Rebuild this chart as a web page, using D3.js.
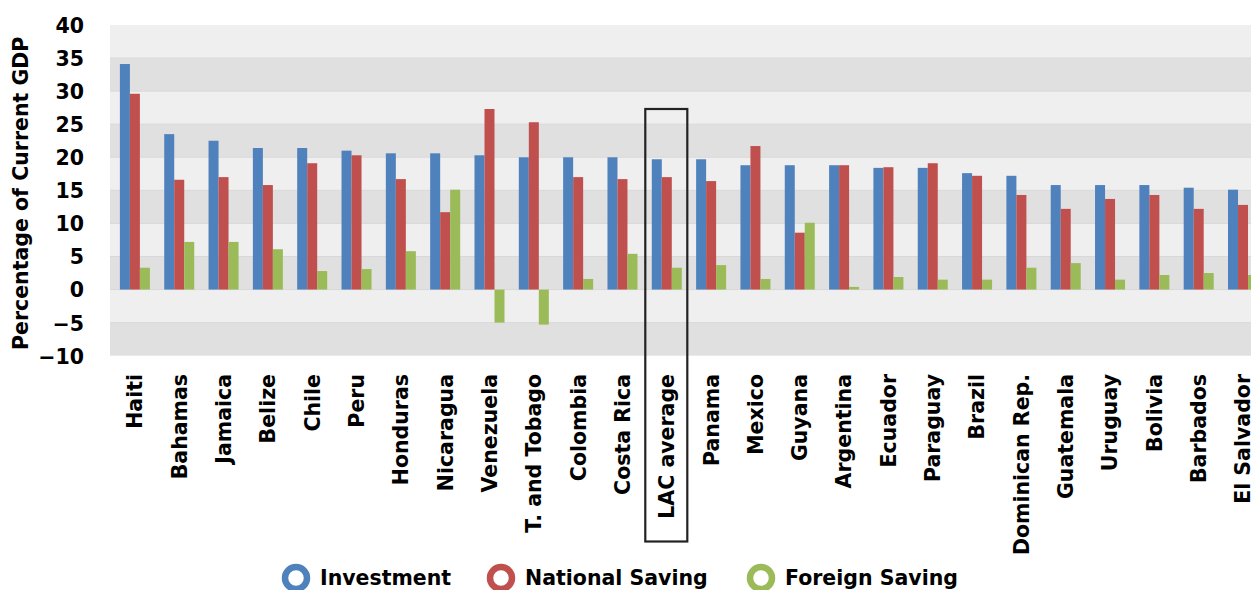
<!DOCTYPE html>
<html><head><meta charset="utf-8">
<script src="https://cdn.jsdelivr.net/npm/d3@7"></script>
<style>body{margin:0;background:#fff;overflow:hidden}svg{display:block}</style>
</head><body>
<script>
const categories = ["Haiti","Bahamas","Jamaica","Belize","Chile","Peru","Honduras","Nicaragua","Venezuela","T. and Tobago","Colombia","Costa Rica","LAC average","Panama","Mexico","Guyana","Argentina","Ecuador","Paraguay","Brazil","Dominican Rep.","Guatemala","Uruguay","Bolivia","Barbados","El Salvador"];
const investment = [34.1,23.5,22.5,21.4,21.4,21.0,20.6,20.6,20.3,20.0,20.0,20.0,19.7,19.7,18.8,18.8,18.8,18.4,18.4,17.6,17.2,15.8,15.8,15.8,15.4,15.1];
const nationalSaving = [29.6,16.6,17.0,15.8,19.1,20.3,16.7,11.7,27.3,25.3,17.0,16.7,17.0,16.4,21.7,8.6,18.8,18.5,19.1,17.2,14.3,12.2,13.7,14.3,12.2,12.8];
const foreignSaving = [3.3,7.2,7.2,6.1,2.8,3.1,5.8,15.1,-5.0,-5.3,1.6,5.4,3.3,3.7,1.6,10.1,0.4,1.9,1.5,1.5,3.3,4.0,1.5,2.2,2.5,2.2];
const seriesNames = ["Investment","National Saving","Foreign Saving"];
const seriesColors = ["#4f81bd","#c0504d","#9bbb59"];
const yTicks = [40,35,30,25,20,15,10,5,0,-5,-10];
const highlighted = "LAC average";

const W = 1251, H = 590;
const svg = d3.select("body").append("svg").attr("width", W).attr("height", H);
const plotLeft = 110, plotTop = 25, plotBottom = 355.7;
const step = 44.32, x0 = 112.8;
const x = d3.scaleBand().domain(categories).range([x0, x0 + step*categories.length]).paddingInner(0.323).paddingOuter(0.16);
const xs = d3.scaleBand().domain(seriesNames).range([0, x.bandwidth()]);
const y = d3.scaleLinear().domain([-10, 40]).range([plotBottom, plotTop]);

// bands
const g = svg.append("g");
for (let i = 0; i < yTicks.length - 1; i++) {
  const top = yTicks[i], bot = yTicks[i+1];
  g.append("rect").attr("x", plotLeft).attr("width", W - plotLeft)
    .attr("y", y(top)).attr("height", y(bot) - y(top))
    .attr("fill", i % 2 === 0 ? "#efefef" : "#e0e0e0");
}
g.selectAll("line.grid").data(yTicks.slice(1, -1)).join("line")
  .attr("x1", plotLeft).attr("x2", W).attr("y1", d => y(d)).attr("y2", d => y(d))
  .attr("stroke", "#d8d8d8").attr("stroke-width", 1);

// bars
const data = [investment, nationalSaving, foreignSaving];
data.forEach((vals, si) => {
  svg.append("g").selectAll("rect").data(categories).join("rect")
    .attr("x", (c) => x(c) + xs(seriesNames[si]))
    .attr("width", xs.bandwidth())
    .attr("y", (c, i) => y(Math.max(0, vals[i])))
    .attr("height", (c, i) => Math.abs(y(vals[i]) - y(0)))
    .attr("fill", seriesColors[si]);
});

// y axis labels
const yAxis = d3.axisLeft(y).tickValues(yTicks).tickSize(0).tickPadding(0);
const ya = svg.append("g").attr("transform", "translate(84,0)").call(yAxis);
ya.select(".domain").remove();
ya.selectAll("text").attr("font-family", "DejaVu Sans").attr("font-weight", "bold").attr("font-size", 20.5).attr("fill", "#000").attr("dy", "0.36em");

svg.append("text").attr("transform", `translate(28,${(plotTop+plotBottom)/2+3}) rotate(-90)`)
  .attr("text-anchor", "middle").attr("font-family", "DejaVu Sans").attr("font-weight", "bold")
  .attr("font-size", 20.5).text("Percentage of Current GDP");

// x axis labels
const xAxis = d3.axisBottom(x).tickSize(0).tickPadding(0);
const xa = svg.append("g").attr("transform", "translate(0,374)").call(xAxis);
xa.select(".domain").remove();
xa.selectAll("text").attr("font-family", "DejaVu Sans").attr("font-weight", "bold").attr("font-size", 20.5).attr("fill", "#000")
  .attr("text-anchor", "end").attr("transform", "rotate(-90)").attr("x", 0).attr("y", 0).attr("dy", "0.36em").attr("dx", 0);

// highlight box
const hx = x(highlighted);
svg.append("rect").attr("x", hx - 6.5).attr("y", 109).attr("width", x.bandwidth() + 12).attr("height", 432.5)
  .attr("fill", "none").attr("stroke", "#222").attr("stroke-width", 2.2);

// legend
const legendX = [296, 501, 761];
const lg = svg.append("g").selectAll("g").data(seriesNames).join("g")
  .attr("transform", (d, i) => `translate(${legendX[i]},578)`);
lg.append("circle").attr("r", 11).attr("fill", "#fff").attr("stroke", (d, i) => seriesColors[i]).attr("stroke-width", 6.5);
lg.append("text").attr("x", 24).attr("dy", "0.36em").attr("font-family", "DejaVu Sans").attr("font-weight", "bold")
  .attr("font-size", 20.5).text(d => d);
</script>
</body></html>
